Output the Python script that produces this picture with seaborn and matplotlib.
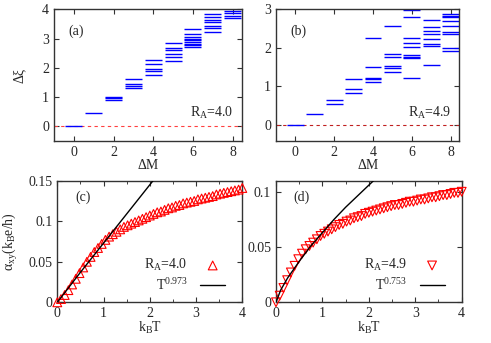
import numpy as np
import pandas as pd
import seaborn as sns
import matplotlib
matplotlib.use("Agg")
import matplotlib.pyplot as plt
from matplotlib.ticker import FormatStrFormatter, MultipleLocator

# entanglement levels per angular-momentum sector (a) and (b)
delta_m = [0, 1, 2, 3, 4, 5, 6, 7, 8]
levels_a = [
    [0.0],
    [0.46],
    [1.00, 0.95, 0.88],
    [1.61, 1.44, 1.38, 1.29],
    [2.26, 2.11, 1.94, 1.90, 1.75],
    [2.84, 2.66, 2.59, 2.46, 2.35, 2.23],
    [3.31, 3.17, 3.06, 3.00, 2.95, 2.89, 2.82, 2.77, 2.71],
    [3.83, 3.73, 3.62, 3.55, 3.43, 3.35, 3.21],
    [3.95, 3.88, 3.77, 3.71],
]
levels_b = [
    [0.0],
    [0.28],
    [0.65, 0.54],
    [1.20, 0.92, 0.83],
    [2.26, 1.49, 1.23, 1.18, 1.11],
    [2.57, 1.83, 1.77, 1.53, 1.48, 1.38],
    [2.97, 2.81, 2.26, 2.12, 2.03, 1.81, 1.77, 1.73, 1.23],
    [2.73, 2.55, 2.44, 2.37, 2.23, 2.10, 2.05, 1.55],
    [2.87, 2.82, 2.79, 2.69, 2.57, 2.40, 2.36, 1.99, 1.92],
]

# thermal Hall response alpha_xy vs k_B T, panels (c) and (d)
temp = np.linspace(0, 4, 51)
alpha_c = [0.000, 0.004, 0.009, 0.015, 0.022, 0.029, 0.036, 0.043, 0.050, 0.056,
           0.062, 0.067, 0.072, 0.077, 0.081, 0.084, 0.087, 0.090, 0.093, 0.095,
           0.097, 0.099, 0.101, 0.103, 0.105, 0.107, 0.109, 0.111, 0.112, 0.114,
           0.116, 0.117, 0.119, 0.120, 0.122, 0.123, 0.124, 0.125, 0.127, 0.128,
           0.129, 0.130, 0.131, 0.133, 0.134, 0.135, 0.136, 0.137, 0.138, 0.139,
           0.141]
alpha_d = [0.000, 0.006, 0.013, 0.020, 0.027, 0.033, 0.039, 0.044, 0.048, 0.051,
           0.054, 0.057, 0.060, 0.062, 0.064, 0.066, 0.068, 0.070, 0.071, 0.073,
           0.074, 0.076, 0.077, 0.078, 0.080, 0.081, 0.082, 0.083, 0.084, 0.085,
           0.086, 0.087, 0.088, 0.088, 0.089, 0.090, 0.091, 0.091, 0.092, 0.093,
           0.093, 0.094, 0.095, 0.095, 0.096, 0.097, 0.097, 0.098, 0.099, 0.099,
           0.100]

# power-law fit lines
fit_t_c = [0.0, 0.5, 1.0, 1.5, 2.07]
fit_c = [0.0, 0.037, 0.073, 0.109, 0.150]
fit_t_d = [0.0, 0.1, 0.25, 0.5, 0.75, 1.0, 1.25, 1.5, 1.75, 2.1]
fit_d = [0.0, 0.011, 0.022, 0.037, 0.051, 0.063, 0.075, 0.086, 0.096, 0.110]

sns.set_style("ticks")
plt.rcParams["font.family"] = ["Liberation Serif", "DejaVu Serif"]
plt.rcParams["mathtext.fontset"] = "stix"
plt.rcParams["mathtext.default"] = "regular"
plt.rcParams["font.size"] = 10

FS = 10
fig = plt.figure(figsize=(4.91, 3.43), dpi=100)
W, H = 491, 343


def px_axes(left, right, top, bottom):
    return fig.add_axes([left / W, 1 - bottom / H, (right - left) / W, (bottom - top) / H])


ax_a = px_axes(54, 241.5, 9.3, 140.7)
ax_b = px_axes(276, 459.3, 9.3, 140.7)
ax_c = px_axes(57.3, 242.3, 180.7, 302.3)
ax_d = px_axes(276, 461.7, 180.7, 302.3)


def style_axis(ax):
    ax.tick_params(direction="in", top=True, right=True, length=3.5, width=0.8,
                   labelsize=FS, pad=3.5, color="#333333")
    ax.tick_params(which="minor", direction="in", top=True, right=True, length=2, width=0.6)
    for s in ax.spines.values():
        s.set_color("#333333")
        s.set_linewidth(1.0)


def level_panel(ax, levels, ylim, zero_color, tag, label):
    rows = [(m, e) for m, lv in zip(delta_m, levels) for e in lv]
    df = pd.DataFrame(rows, columns=["dM", "xi"])
    ax.axhline(0, color=zero_color, lw=0.8, ls=(0, (3, 3)), zorder=1)
    ax.hlines(df["xi"], df["dM"] - 0.43, df["dM"] + 0.43, color="#0000ff", lw=1.0, zorder=2)
    ax.set_xlim(-1, 8.45)
    ax.set_ylim(*ylim)
    ax.xaxis.set_major_locator(MultipleLocator(2))
    ax.yaxis.set_major_locator(MultipleLocator(1))
    ax.set_xlabel("ΔM", fontsize=FS, labelpad=0)
    ax.text(0.12, 0.83, tag, transform=ax.transAxes, fontsize=FS, ha="center", va="center")
    ax.text(0.84, 0.21, label, transform=ax.transAxes, fontsize=FS, ha="center", va="center")
    style_axis(ax)


level_panel(ax_a, levels_a, (-0.5, 4), "#ff4040", "(a)", "R$_A$=4.0")
level_panel(ax_b, levels_b, (-0.41, 3), "#c02020", "(b)", "R$_A$=4.9")
ax_a.set_ylabel("Δξ", fontsize=FS, labelpad=12)


def hall_panel(ax, alpha, marker, fit_t, fit, ylim, tag, label, fit_label):
    sns.scatterplot(x=temp, y=alpha, ax=ax, marker=marker, s=40, facecolor="none",
                    edgecolor="red", linewidth=0.8, label=label, zorder=3, clip_on=False)
    sns.lineplot(x=fit_t, y=fit, ax=ax, color="black", lw=1.0, label=fit_label, zorder=4)
    ax.set_xlim(0, 4)
    ax.set_ylim(*ylim)
    ax.xaxis.set_major_locator(MultipleLocator(1))
    ax.xaxis.set_minor_locator(MultipleLocator(0.5))
    ax.yaxis.set_major_locator(MultipleLocator(0.05))
    ax.yaxis.set_major_formatter(FormatStrFormatter("%g"))
    ax.set_xlabel("k$_B$T", fontsize=FS, labelpad=0)
    ax.text(0.14, 0.86, tag, transform=ax.transAxes, fontsize=FS, ha="center", va="center")
    ax.legend(loc="lower right", frameon=False, markerfirst=False, fontsize=FS,
              handlelength=1.8, handletextpad=0.9, labelspacing=0.25,
              borderaxespad=0.3, bbox_to_anchor=(0.96, 0.0))
    style_axis(ax)


hall_panel(ax_c, alpha_c, "^", fit_t_c, fit_c, (0, 0.15), "(c)", "R$_A$=4.0", "T$^{0.973}$")
hall_panel(ax_d, alpha_d, "v", fit_t_d, fit_d, (0, 0.11), "(d)", "R$_A$=4.9", "T$^{0.753}$")
ax_c.set_ylabel("α$_{xy}$(k$_B$e/h)", fontsize=FS, labelpad=6)

fig.savefig("out.png", dpi=100)
